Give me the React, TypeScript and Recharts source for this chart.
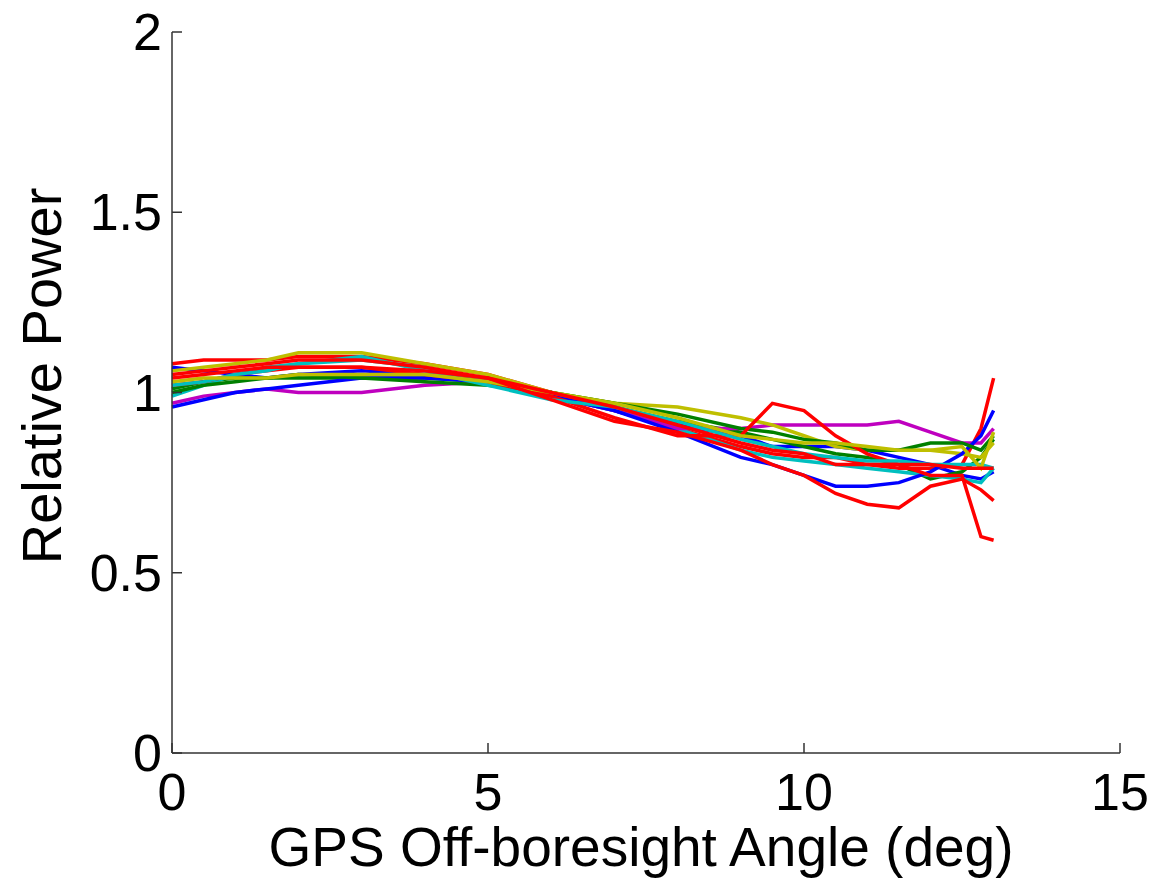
import React from "react";
import { LineChart, Line, XAxis, YAxis } from "recharts";

// off-boresight angle samples (deg)
const angles = [0, 0.5, 1, 1.5, 2, 3, 4, 5, 6, 7, 8, 9, 9.5, 10, 10.5, 11, 11.5, 12, 12.5, 12.8, 13];

// relative power curves
const blue1 = [1.07, 1.06, 1.05, 1.04, 1.05, 1.06, 1.05, 1.04, 1.0, 0.96, 0.91, 0.88, 0.85, 0.85, 0.85, 0.84, 0.82, 0.8, 0.77, 0.76, 0.78];
const green1 = [1.01, 1.03, 1.04, 1.04, 1.04, 1.04, 1.04, 1.03, 1.0, 0.96, 0.92, 0.89, 0.87, 0.85, 0.83, 0.82, 0.8, 0.76, 0.78, 0.82, 0.87];
const red1 = [1.08, 1.09, 1.09, 1.09, 1.1, 1.1, 1.08, 1.05, 1.0, 0.95, 0.9, 0.85, 0.83, 0.82, 0.82, 0.8, 0.79, 0.79, 0.8, 0.9, 1.04];
const cyan1 = [0.99, 1.02, 1.05, 1.07, 1.08, 1.09, 1.07, 1.03, 0.99, 0.95, 0.9, 0.84, 0.82, 0.81, 0.8, 0.79, 0.78, 0.77, 0.76, 0.75, 0.79];
const magenta1 = [0.97, 0.99, 1.0, 1.01, 1.0, 1.0, 1.02, 1.03, 0.99, 0.95, 0.9, 0.9, 0.91, 0.91, 0.91, 0.91, 0.92, 0.89, 0.86, 0.86, 0.9];
const yellow1 = [1.06, 1.07, 1.08, 1.09, 1.11, 1.11, 1.08, 1.05, 1.0, 0.97, 0.96, 0.93, 0.91, 0.88, 0.85, 0.84, 0.84, 0.84, 0.83, 0.82, 0.86];
const blue2 = [0.96, 0.98, 1.0, 1.01, 1.02, 1.04, 1.04, 1.03, 0.99, 0.95, 0.89, 0.82, 0.8, 0.77, 0.74, 0.74, 0.75, 0.78, 0.83, 0.88, 0.95];
const green2 = [1.0, 1.02, 1.03, 1.04, 1.05, 1.04, 1.03, 1.02, 1.0, 0.97, 0.94, 0.9, 0.89, 0.87, 0.86, 0.84, 0.84, 0.86, 0.86, 0.84, 0.88];
const red2 = [1.02, 1.03, 1.05, 1.06, 1.07, 1.07, 1.05, 1.03, 0.99, 0.93, 0.88, 0.88, 0.97, 0.95, 0.88, 0.83, 0.8, 0.77, 0.77, 0.6, 0.59];
const cyan2 = [1.02, 1.03, 1.05, 1.06, 1.08, 1.1, 1.06, 1.02, 0.98, 0.96, 0.92, 0.87, 0.85, 0.83, 0.82, 0.81, 0.81, 0.8, 0.8, 0.8, 0.79];
const yellow2 = [1.03, 1.04, 1.04, 1.04, 1.05, 1.05, 1.05, 1.03, 1.0, 0.97, 0.93, 0.88, 0.87, 0.86, 0.86, 0.85, 0.84, 0.84, 0.85, 0.79, 0.89];
const red3 = [1.05, 1.06, 1.07, 1.08, 1.09, 1.09, 1.07, 1.04, 0.98, 0.92, 0.89, 0.84, 0.8, 0.77, 0.72, 0.69, 0.68, 0.74, 0.76, 0.73, 0.7];
const red4 = [1.04, 1.05, 1.06, 1.07, 1.07, 1.07, 1.06, 1.04, 1.0, 0.96, 0.91, 0.86, 0.84, 0.83, 0.8, 0.8, 0.8, 0.8, 0.79, 0.79, 0.79];

const xTicks = [0, 5, 10, 15];
const yTicks = [0, 0.5, 1, 1.5, 2];

const series = [
  { key: "blue1", values: blue1, color: "#0000ff" },
  { key: "green1", values: green1, color: "#008000" },
  { key: "red1", values: red1, color: "#ff0000" },
  { key: "cyan1", values: cyan1, color: "#00bfbf" },
  { key: "magenta1", values: magenta1, color: "#bf00bf" },
  { key: "yellow1", values: yellow1, color: "#bfbf00" },
  { key: "blue2", values: blue2, color: "#0000ff" },
  { key: "green2", values: green2, color: "#008000" },
  { key: "red2", values: red2, color: "#ff0000" },
  { key: "cyan2", values: cyan2, color: "#00bfbf" },
  { key: "yellow2", values: yellow2, color: "#bfbf00" },
  { key: "red3", values: red3, color: "#ff0000" },
  { key: "red4", values: red4, color: "#ff0000" },
];

const data = angles.map((a, i) => {
  const row: Record<string, number> = { angle: a };
  series.forEach(s => {
    row[s.key] = s.values[i];
  });
  return row;
});

const FONT = "'Liberation Sans', Arial, Helvetica, sans-serif";
const AXIS = "#333333";

const XTick = (props: any) => {
  const { x, y, payload } = props;
  return (
    <g>
      <line x1={x} y1={y} x2={x} y2={y - 10} stroke={AXIS} strokeWidth={1.5} />
      <text x={x} y={y + 57} textAnchor="middle" fontSize={52} fontFamily={FONT} fill="#000">
        {payload.value}
      </text>
    </g>
  );
};

const YTick = (props: any) => {
  const { x, y, payload } = props;
  return (
    <g>
      <line x1={x} y1={y} x2={x + 10} y2={y} stroke={AXIS} strokeWidth={1.5} />
      <text x={x - 10} y={y + 18} textAnchor="end" fontSize={52} fontFamily={FONT} fill="#000">
        {payload.value}
      </text>
    </g>
  );
};

const App = () => {
  return (
    <div style={{ position: "absolute", left: 0, top: 0, background: "#fff" }}>
      <LineChart
        width={1157}
        height={879}
        data={data}
        margin={{ top: 32, right: 37, left: 171, bottom: 125 }}
      >
        <XAxis
          dataKey="angle"
          type="number"
          domain={[0, 15]}
          ticks={xTicks}
          height={1}
          tickSize={0}
          tickMargin={0}
          tickLine={false}
          axisLine={{ stroke: AXIS, strokeWidth: 1.5 }}
          tick={<XTick />}
          interval={0}
          label={{
            content: () => (
              <text x={641} y={866} textAnchor="middle" fontSize={55} fontFamily={FONT} fill="#000">
                GPS Off-boresight Angle (deg)
              </text>
            ),
          }}
        />
        <YAxis
          type="number"
          domain={[0, 2]}
          ticks={yTicks}
          width={1}
          tickSize={0}
          tickMargin={0}
          tickLine={false}
          axisLine={{ stroke: AXIS, strokeWidth: 1.5 }}
          tick={<YTick />}
          interval={0}
          label={{
            content: () => (
              <text
                x={61}
                y={376}
                textAnchor="middle"
                fontSize={56}
                fontFamily={FONT}
                fill="#000"
                transform="rotate(-90 61 376)"
              >
                Relative Power
              </text>
            ),
          }}
        />
        {series.map(s => (
          <Line
            key={s.key}
            dataKey={s.key}
            type="linear"
            stroke={s.color}
            strokeWidth={3.5}
            dot={false}
            activeDot={false}
            isAnimationActive={false}
          />
        ))}
      </LineChart>
    </div>
  );
};

export default App;
